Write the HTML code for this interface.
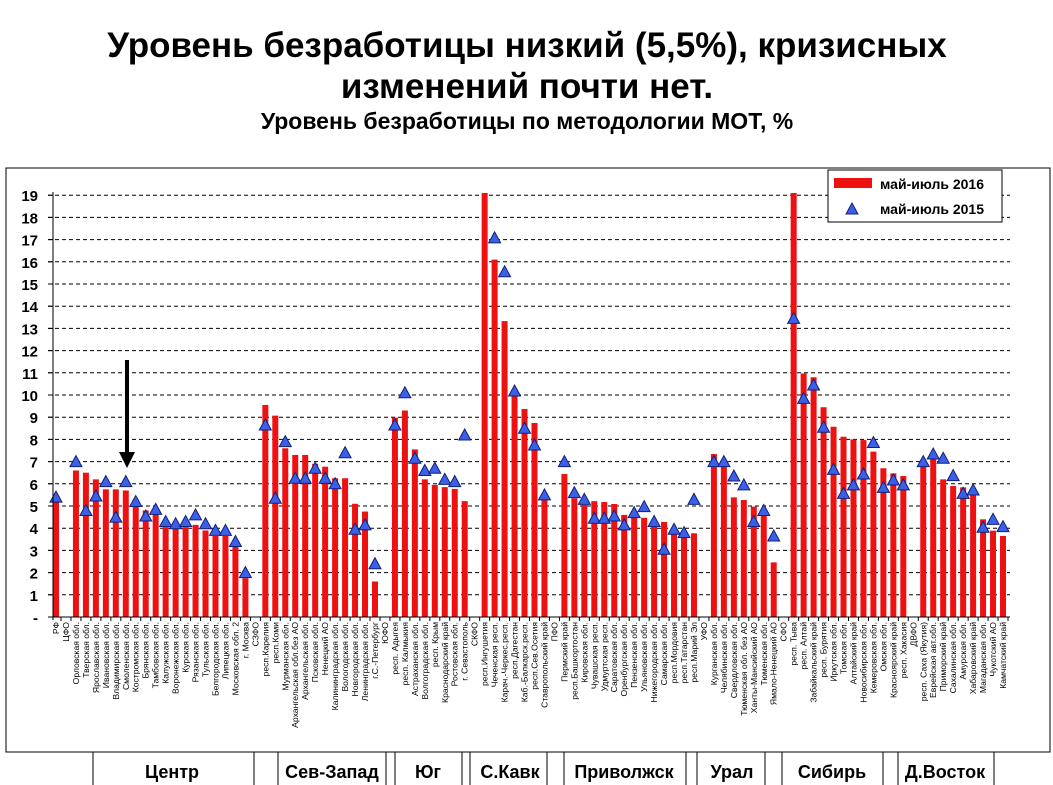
<!DOCTYPE html>
<html><head><meta charset="utf-8">
<style>
body{margin:0;background:#fff;width:1053px;height:785px;overflow:hidden;font-family:"Liberation Sans",sans-serif}
svg{position:absolute;left:0;top:0}
</style></head>
<body>
<svg id="chart" width="1053" height="785" xmlns="http://www.w3.org/2000/svg" font-family="Liberation Sans, sans-serif">
<text x="527" y="57" text-anchor="middle" font-size="35" font-weight="bold">Уровень безработицы низкий (5,5%), кризисных</text>
<text x="527" y="98" text-anchor="middle" font-size="35" font-weight="bold">изменений почти нет.</text>
<text x="527" y="129" text-anchor="middle" font-size="23" font-weight="bold">Уровень безработицы по методологии МОТ, %</text>
<rect x="6" y="168" width="1044" height="584" fill="none" stroke="#000" stroke-width="1"/>
<g id="grid"></g><g id="bars"></g><g id="tris"></g><g id="xlabels"></g><g id="ylabels"></g>
<line x1="53" y1="192" x2="53" y2="620" stroke="#000"/>
<line x1="53" y1="617" x2="1010" y2="617" stroke="#000"/>
<g>
<line x1="127" y1="360" x2="127" y2="455" stroke="#000" stroke-width="4"/>
<polygon points="119,452 135,452 127,468" fill="#000"/>
</g>
<g>
<rect x="828" y="170" width="174" height="52" fill="#fff" stroke="#000"/>
<rect x="834" y="178" width="38" height="10" fill="#ee1111"/>
<text x="880" y="189" font-size="14" font-weight="bold">май-июль 2016</text>
<polygon points="852,203 858,214 846,214" fill="#3b5fe6" stroke="#10207a" stroke-width="1"/>
<text x="880" y="214" font-size="14" font-weight="bold">май-июль 2015</text>
</g>
<g id="regions"></g>
</svg>
<script>
const categories=["РФ","ЦФО","Орловская обл.","Тверская обл.","Ярославская обл.","Ивановская обл.","Владимирская обл.","Смоленская обл.","Костромская обл.","Брянская обл.","Тамбовская обл.","Калужская обл.","Воронежская обл.","Курская обл.","Рязанская обл.","Тульская обл.","Белгородская обл.","Липецкая обл.","Московская обл. 2","г. Москва","СЗФО",
"респ.Карелия","респ.Коми","Мурманская обл.","Архангельская обл.без АО","Архангельская обл.","Псковская обл.","Ненецкий АО","Калининградская обл.","Вологодская обл.","Новгородская обл.","Ленинградская обл.","г.С.-Петербург","ЮФО",
"респ. Адыгея","респ. Калмыкия","Астраханская обл.","Волгоградская обл.","респ. Крым","Краснодарский край","Ростовская обл.","г. Севастополь","СКФО",
"респ.Ингушетия","Чеченская респ.","Карач.-Черкес.респ.","респ.Дагестан","Каб.-Балкарск.респ.","респ.Сев.Осетия","Ставропольский край","ПФО",
"Пермский край","респ.Башкортостан","Кировская обл.","Чувашская респ.","Удмуртская респ.","Саратовская обл.","Оренбургская обл.","Пензенская обл.","Ульяновская обл.","Нижегородская обл.","Самарская обл.","респ.Мордовия","респ.Татарстан","респ.Марий Эл","УФО",
"Курганская обл.","Челябинская обл.","Свердловская обл.","Тюменская обл. без АО","Ханты-Мансийский АО","Тюменская обл.","Ямало-Ненецкий АО","СФО",
"респ. Тыва","респ. Алтай","Забайкальский край","респ. Бурятия","Иркутская обл.","Томская обл.","Алтайский край","Новосибирская обл.","Кемеровская обл.","Омская обл.","Красноярский край","респ. Хакасия","ДВФО",
"респ. Саха (Якутия)","Еврейская авт.обл.","Приморский край","Сахалинская обл.","Амурская обл.","Хабаровский край","Магаданская обл.","Чукотский АО","Камчатский край"];
const values2016=[5.2,null,6.6,6.5,6.2,5.75,5.75,5.7,5.3,4.8,4.7,4.05,4.3,4.05,4.15,3.9,3.65,3.65,3.17,1.75,null,
9.55,9.07,7.6,7.3,7.3,6.9,6.77,6.25,6.25,5.1,4.75,1.6,null,
8.98,9.3,7.55,6.2,5.95,5.85,5.77,5.22,null,
19.1,16.1,13.33,9.95,9.37,8.74,5.3,null,
6.44,5.35,5.05,5.22,5.18,5.09,4.6,4.47,4.47,4.07,4.28,3.77,3.62,3.77,null,
7.34,6.77,5.39,5.27,4.97,4.6,2.46,null,
19.1,10.97,10.8,9.45,8.57,8.12,8.0,7.97,7.45,6.7,6.47,6.35,null,
6.77,7.15,6.2,5.9,5.84,5.54,4.4,3.89,3.65];
const values2015=[5.4,null,7.0,4.8,5.45,6.1,4.5,6.1,5.2,4.55,4.85,4.3,4.2,4.3,4.6,4.2,3.9,3.9,3.4,2.0,null,
8.65,5.35,7.9,6.25,6.25,6.7,6.25,6.0,7.4,3.95,4.15,2.4,null,
8.65,10.1,7.15,6.6,6.7,6.2,6.1,8.2,null,
null,17.08,15.55,10.18,8.5,7.75,5.5,null,
7.0,5.6,5.3,4.45,4.45,4.55,4.15,4.7,4.97,4.3,3.05,3.95,3.8,5.3,null,
7.0,7.0,6.35,5.95,4.3,4.8,3.65,null,
13.45,9.85,10.45,8.55,6.65,5.57,5.95,6.44,7.86,5.84,6.17,5.95,null,
7.0,7.34,7.15,6.37,5.57,5.72,4.04,4.4,4.07];
const yTicks=["-","1","2","3","4","5","6","7","8","9","10","11","12","13","14","15","16","17","18","19"];
const regionNames=["Центр","Сев-Запад","Юг","С.Кавк","Приволжск","Урал","Сибирь","Д.Восток"];
const regionCenters=[172,332,428,510,624,732,832,945];
const regionDividers=[93,254,278,386,395,462,470,547,564,686,697,765,782,883,898,994];

const NS="http://www.w3.org/2000/svg";
const Y_MAX=19.1;
function y(v){return 617-Math.min(v,Y_MAX)*22.2;}
function x(i){return 56+i*(947/(categories.length-1));}
function mk(tag,attrs,parent){const e=document.createElementNS(NS,tag);for(const k in attrs)e.setAttribute(k,attrs[k]);document.getElementById(parent).appendChild(e);return e;}

yTicks.forEach((t,i)=>{
  if(i>0){const g=mk('line',{x1:48,x2:1010,y1:y(i),y2:y(i),stroke:'#000','stroke-dasharray':'4,3','stroke-width':1},'grid');
  
  }
  const tk=mk('line',{x1:48,x2:53,y1:y(i),y2:y(i),stroke:'#000'},'grid');
  
  
  const tx=mk('text',{x:38,y:y(i)+6,'text-anchor':'end','font-size':15,'font-weight':'bold'},'ylabels');
  tx.textContent=t;
  
  
});
categories.forEach((c,i)=>{
  const xc=x(i);
  const tk=mk('line',{x1:xc+5,x2:xc+5,y1:617,y2:621,stroke:'#000'},'grid');
  
  
  const v=values2016[i];
  if(v!=null){const b=mk('rect',{x:xc-3,y:y(v),width:6,height:617-y(v),fill:'#ee1111'},'bars');
    
    }
  const w=values2015[i];
  if(w!=null){const yy=y(w);const t=mk('polygon',{points:`${xc},${yy-6} ${xc+6},${yy+5} ${xc-6},${yy+5}`,fill:'#3b5fe6',stroke:'#10207a','stroke-width':1},'tris');
    
    }
  const lb=mk('text',{x:0,y:0,'text-anchor':'end','font-size':8.6,transform:`translate(${xc+3},622) rotate(-90)`},'xlabels');
  lb.textContent=c;
  
  
});
regionDividers.forEach(d=>{
  const l=mk('line',{x1:d,x2:d,y1:752,y2:785,stroke:'#000'},'regions');
  
  
});
regionNames.forEach((n,i)=>{
  const t=mk('text',{x:regionCenters[i],y:778,'text-anchor':'middle','font-size':18,'font-weight':'bold'},'regions');
  t.textContent=n;
  
  
});
</script>
</body></html>
